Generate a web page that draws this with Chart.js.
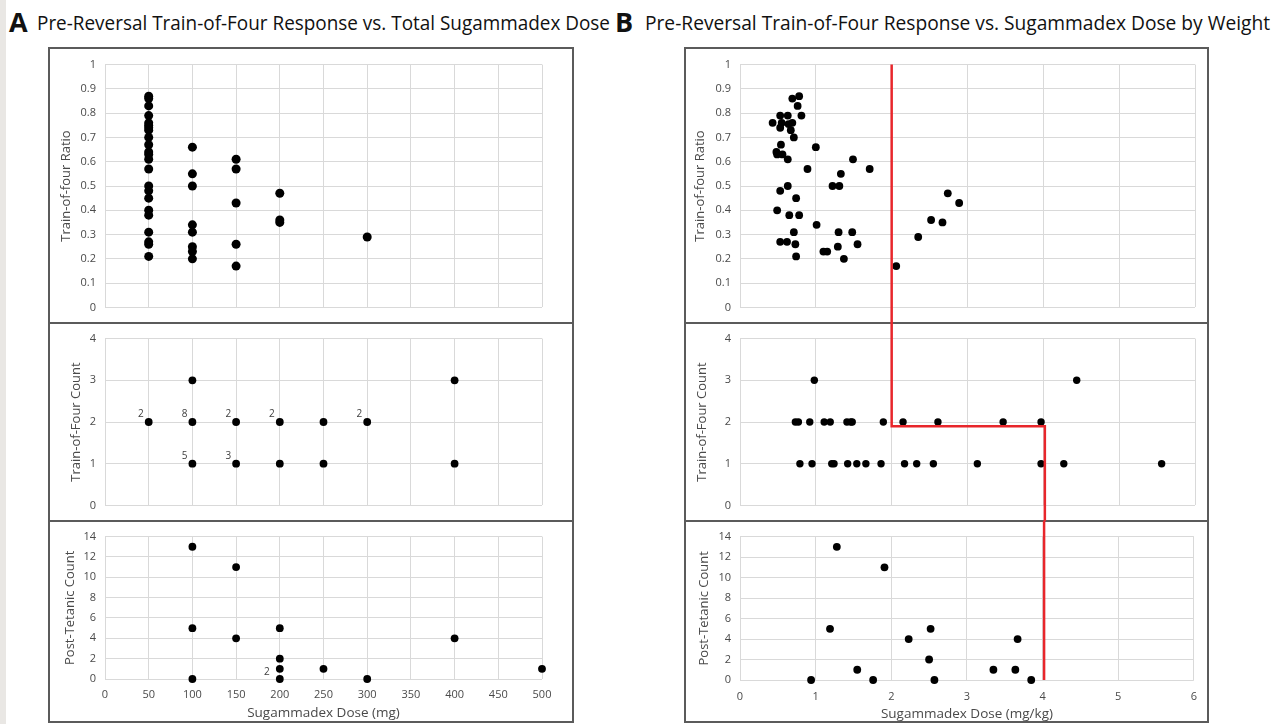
<!DOCTYPE html>
<html><head><meta charset="utf-8">
<script src="https://cdn.jsdelivr.net/npm/chart.js"></script>
<style>
html,body{margin:0;padding:0}
body{background:#fff;width:1276px;height:724px;position:relative;overflow:hidden;font-family:"Open Sans",sans-serif}
.strip{position:absolute;left:0;top:0;width:6px;height:724px;background:#e9e7e4}
.box{position:absolute;border:2px solid #5b5b5b;box-sizing:border-box}
.sep{position:absolute;height:2px;background:#5b5b5b}
canvas{position:absolute}
.letter{position:absolute;top:6px;height:32px;line-height:32px;font-size:27px;font-weight:700;color:#111}
.title{position:absolute;top:7px;height:32px;line-height:32px;font-size:20px;color:#111;white-space:nowrap;transform-origin:0 50%}
</style></head><body>
<div class="strip"></div>
<div class="letter" style="left:9px">A</div>
<div class="title" id="tA" style="left:37px" data-w="573">Pre-Reversal Train-of-Four Response vs. Total Sugammadex Dose</div>
<div class="letter" style="left:615px">B</div>
<div class="title" id="tB" style="left:645px" data-w="625">Pre-Reversal Train-of-Four Response vs. Sugammadex Dose by Weight</div>
<div class="box" style="left:48px;top:47px;width:526px;height:676px"></div>
<div class="sep" style="left:48px;top:322px;width:526px"></div>
<div class="sep" style="left:48px;top:520px;width:526px"></div>
<div class="box" style="left:684px;top:47px;width:525px;height:676px"></div>
<div class="sep" style="left:684px;top:322px;width:525px"></div>
<div class="sep" style="left:684px;top:520px;width:525px"></div>
<script>
// ---------- tick labels ----------
const doseMgTicks = [0,50,100,150,200,250,300,350,400,450,500];
const doseKgTicks = [0,1,2,3,4,5,6];
const ratioTicks = [0,0.1,0.2,0.3,0.4,0.5,0.6,0.7,0.8,0.9,1];
const countTicks = [0,1,2,3,4];
const ptcTicks = [0,2,4,6,8,10,12,14];

// ---------- Panel A : total dose (mg) ----------
const aRatioDose = [50,50,50,50,50,50,50,50,50,50,50,50,50,50,50,50,50,50,50,50,50,50,50,
                    100,100,100,100,100,100,100,100,
                    150,150,150,150,150,
                    200,200,200,
                    300];
const aRatioValue = [0.87,0.86,0.83,0.79,0.76,0.75,0.74,0.73,0.70,0.67,0.64,0.63,0.61,0.57,0.50,0.48,0.45,0.40,0.38,0.31,0.27,0.26,0.21,
                     0.66,0.55,0.50,0.34,0.31,0.25,0.23,0.20,
                     0.61,0.57,0.43,0.26,0.17,
                     0.47,0.36,0.35,
                     0.29];
const aCountDose  = [50,100,100,100,150,150,200,200,250,250,300,400,400];
const aCountValue = [2,3,2,1,2,1,2,1,2,1,2,3,1];
const aCountN     = ["2",null,"8","5","2","3","2",null,null,null,"2",null,null];
const aPtcDose  = [100,100,100,150,150,200,200,200,200,250,300,400,500];
const aPtcValue = [13,5,0,11,4,5,2,1,0,1,0,4,1];
const aPtcN     = [null,null,null,null,null,null,null,"2",null,null,null,null,null];

// ---------- Panel B : dose by weight (mg/kg) ----------
const bRatioDose = [0.43,0.53,0.63,0.69,0.78,0.76,0.81,0.55,0.53,0.64,0.69,0.67,0.71,0.54,0.48,0.49,0.56,0.63,1.00,0.89,
                    1.49,1.71,1.33,1.22,1.31,0.63,0.53,0.74,0.49,0.65,0.78,1.01,0.71,1.30,1.48,0.53,0.62,0.73,0.74,1.10,
                    1.15,1.29,1.37,1.55,2.06,2.35,2.52,2.67,2.74,2.89];
const bRatioValue = [0.76,0.79,0.79,0.86,0.87,0.83,0.79,0.76,0.74,0.755,0.76,0.73,0.70,0.67,0.64,0.63,0.63,0.61,0.66,0.57,
                     0.61,0.57,0.55,0.50,0.50,0.50,0.48,0.45,0.40,0.38,0.38,0.34,0.31,0.31,0.31,0.27,0.27,0.26,0.21,0.23,
                     0.23,0.25,0.20,0.26,0.17,0.29,0.36,0.35,0.47,0.43];
const bCountDose  = [0.98,4.44,
                     0.73,0.77,0.92,1.11,1.19,1.41,1.46,1.48,1.89,2.15,2.61,3.47,3.97,
                     0.79,0.95,1.21,1.24,1.42,1.54,1.66,1.86,2.17,2.33,2.55,3.13,3.97,4.27,5.56];
const bCountValue = [3,3,
                     2,2,2,2,2,2,2,2,2,2,2,2,2,
                     1,1,1,1,1,1,1,1,1,1,1,1,1,1,1];
const bPtcDose  = [1.28,1.91,1.19,2.23,2.52,2.50,1.55,0.94,1.76,2.57,3.67,3.35,3.64,3.85];
const bPtcValue = [13,11,5,4,5,2,1,0,0,0,4,1,1,0];

// red cut-off path (dose thresholds in mg/kg, train-of-four count level)
const cutoffDose = [2, 4.02];
const cutoffCount = 1.9;

// fit panel titles to their measured widths
document.querySelectorAll('.title').forEach(el => {
  const w = el.getBoundingClientRect().width;
  el.style.transform = 'scaleX(' + (Number(el.dataset.w) / w) + ')';
});

// ---------- plugins ----------
const pointNotes = {
  id: 'pointNotes',
  afterDatasetsDraw(chart, args, opts) {
    const ds = chart.data.datasets[0];
    if (!ds.notes) return;
    const ctx = chart.ctx, meta = chart.getDatasetMeta(0);
    ctx.save();
    ctx.font = "10px 'Open Sans', sans-serif";
    ctx.fillStyle = '#404040';
    ctx.textAlign = 'right';
    ctx.textBaseline = 'middle';
    meta.data.forEach((pt, i) => {
      const t = ds.notes[i];
      if (t) ctx.fillText(t, pt.x + (opts.dx || 0), pt.y + (opts.dy || 0));
    });
    ctx.restore();
  }
};
const cutoffPlugin = {
  id: 'cutoff',
  afterDatasetsDraw(chart, args, opts) {
    if (!opts.path) return;
    const {ctx, scales: {x, y}} = chart;
    ctx.save();
    ctx.strokeStyle = '#e8262b';
    ctx.lineWidth = 2.5;
    ctx.lineJoin = 'miter';
    ctx.beginPath();
    opts.path.forEach((p, i) => {
      const px = x.getPixelForValue(p.x);
      const py = p.y === 'top' ? 0 : p.y === 'bottom' ? chart.height : y.getPixelForValue(p.y);
      if (i === 0) ctx.moveTo(px, py); else ctx.lineTo(px, py);
    });
    ctx.stroke();
    ctx.restore();
  }
};

Chart.defaults.font.family = "'Open Sans', sans-serif";
Chart.defaults.color = '#4a4a4a';

function scatter(rect, plot, s) {
  const c = document.createElement('canvas');
  c.width = rect.w; c.height = rect.h;
  c.style.left = rect.x + 'px'; c.style.top = rect.y + 'px';
  document.body.appendChild(c);
  const showX = !!s.xTitle;
  return new Chart(c, {
    type: 'scatter',
    data: { datasets: [{
      data: s.xs.map((x, i) => ({x, y: s.ys[i]})),
      notes: s.notes || null,
      pointRadius: s.r, pointHoverRadius: s.r,
      backgroundColor: '#000', borderColor: '#000', borderWidth: 0, clip: false
    }]},
    options: {
      responsive: false, animation: false, devicePixelRatio: 1, events: [],
      layout: { padding: { left: 0, right: rect.x + rect.w - plot.r, top: plot.t - rect.y, bottom: 0 } },
      plugins: {
        legend: {display: false}, tooltip: {enabled: false},
        pointNotes: s.noteOpts || {},
        cutoff: { path: s.cutoff || null }
      },
      scales: {
        x: {
          type: 'linear', min: s.xTicks[0], max: s.xTicks[s.xTicks.length - 1],
          afterBuildTicks: a => { a.ticks = s.xTicks.map(v => ({value: v})); },
          afterFit: a => { a.height = rect.y + rect.h - plot.b; },
          grid: {color: '#d9d9d9', drawTicks: false, lineWidth: 1},
          border: {display: false},
          ticks: {display: showX, padding: s.xTickPad || 9, font: {size: 11}, maxRotation: 0, autoSkip: false, callback: v => String(v)},
          title: {display: showX, text: s.xTitle || '', font: {size: 13.5}, padding: {top: 0, bottom: s.xTitlePad || 0}}
        },
        y: {
          type: 'linear', min: s.yTicks[0], max: s.yTicks[s.yTicks.length - 1],
          afterBuildTicks: a => { a.ticks = s.yTicks.map(v => ({value: v})); },
          afterFit: a => { a.width = plot.l - rect.x; },
          grid: {color: '#d9d9d9', drawTicks: false, lineWidth: 1},
          border: {display: false},
          ticks: {padding: 9, font: {size: 11}, autoSkip: false, callback: v => String(v)},
          title: {display: true, text: s.yTitle, font: {size: 13}, padding: {top: s.yTitlePad, bottom: 0}}
        }
      }
    },
    plugins: [pointNotes, cutoffPlugin]
  });
}

// ----- Panel A -----
const AX = {x: 50, w: 521}, AP = {l: 105, r: 542};
scatter({x: AX.x, w: AX.w, y: 49, h: 274}, {l: AP.l, r: AP.r, t: 56, b: 317},
  {xs: aRatioDose, ys: aRatioValue, r: 4.5, xTicks: doseMgTicks, yTicks: ratioTicks, yTitle: 'Train-of-four Ratio', yTitlePad: 8});
scatter({x: AX.x, w: AX.w, y: 323, h: 198}, {l: AP.l, r: AP.r, t: 337, b: 512},
  {xs: aCountDose, ys: aCountValue, notes: aCountN, noteOpts: {dx: -5, dy: -8}, r: 3.9, xTicks: doseMgTicks, yTicks: countTicks, yTitle: 'Train-of-Four Count', yTitlePad: 18});
scatter({x: AX.x, w: AX.w, y: 521, h: 201}, {l: AP.l, r: AP.r, t: 530, b: 679},
  {xs: aPtcDose, ys: aPtcValue, notes: aPtcN, noteOpts: {dx: -10, dy: 3}, r: 3.9, xTicks: doseMgTicks, yTicks: ptcTicks, yTitle: 'Post-Tetanic Count', yTitlePad: 12,
   xTitle: 'Sugammadex Dose (mg)', xTickPad: 9, xTitlePad: 1});

// ----- Panel B -----
const BX = {x: 686, w: 521}, BP = {l: 740, r: 1195};
scatter({x: BX.x, w: BX.w, y: 49, h: 274}, {l: BP.l, r: BP.r, t: 56, b: 318},
  {xs: bRatioDose, ys: bRatioValue, r: 3.9, xTicks: doseKgTicks, yTicks: ratioTicks, yTitle: 'Train-of-four Ratio', yTitlePad: 6,
   cutoff: [{x: cutoffDose[0], y: 1}, {x: cutoffDose[0], y: 'bottom'}]});
scatter({x: BX.x, w: BX.w, y: 323, h: 198}, {l: BP.l, r: BP.r, t: 337, b: 512},
  {xs: bCountDose, ys: bCountValue, r: 3.7, xTicks: doseKgTicks, yTicks: countTicks, yTitle: 'Train-of-Four Count', yTitlePad: 8,
   cutoff: [{x: cutoffDose[0], y: 'top'}, {x: cutoffDose[0], y: cutoffCount}, {x: cutoffDose[1], y: cutoffCount}, {x: cutoffDose[1], y: 'bottom'}]});
scatter({x: BX.x, w: BX.w, y: 521, h: 201}, {l: BP.l, r: BP.r, t: 532, b: 680},
  {xs: bPtcDose, ys: bPtcValue, r: 3.9, xTicks: doseKgTicks, yTicks: ptcTicks, yTitle: 'Post-Tetanic Count', yTitlePad: 10,
   xTitle: 'Sugammadex Dose (mg/kg)', xTickPad: 10, xTitlePad: 0,
   cutoff: [{x: cutoffDose[1], y: 'top'}, {x: cutoffDose[1], y: 0}]});
</script>
</body></html>
